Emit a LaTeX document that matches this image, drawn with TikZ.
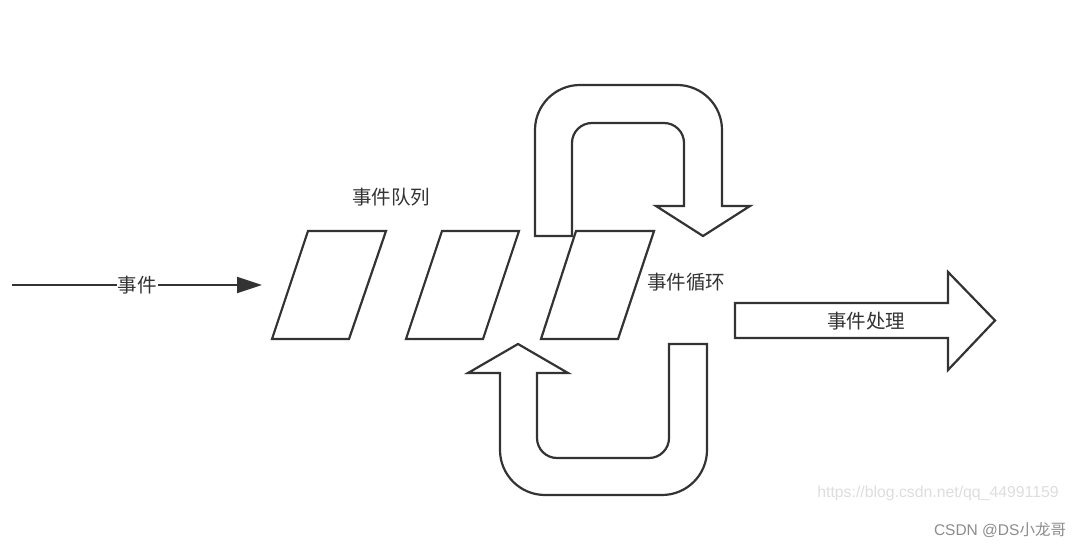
\documentclass[tikz,border=0pt]{standalone}
\usepackage{fontspec}
\newfontfamily\cjk{Noto Sans CJK SC}
\newfontfamily\wmfont{Liberation Sans}
\usetikzlibrary{arrows.meta,positioning}
\definecolor{dkgray}{HTML}{333333}
\definecolor{wmlight}{HTML}{DDDDDD}
\definecolor{wmgray}{HTML}{8C8C8C}
\tikzset{
  qbox/.style={draw=dkgray, line width=2.2pt, line join=miter},
  blk/.style={draw=dkgray, line width=2.2pt, line join=miter, fill=white},
  lbl/.style={font=\cjk\fontsize{19.5}{22}\selectfont, text=dkgray, inner sep=1pt},
  evline/.style={draw=dkgray, line width=2pt, -{Triangle[length=25pt,width=16pt]}},
}
\begin{document}
\begin{tikzpicture}[x=1pt,y=1pt]
  \useasboundingbox (0,0) rectangle (1084,547);
  % Event queue
  \draw[qbox] (308,316) -- (386,316) -- (349,208) -- (272,208) -- cycle;
  \draw[qbox] (442,316) -- (519,316) -- (483,208) -- (406,208) -- cycle;
  \draw[qbox] (576,316) -- (654,316) -- (618,208) -- (541,208) -- cycle;
  \node[lbl] (qlbl) at (391,350) {事件队列};

  % Incoming events
  \coordinate (evsrc) at (12,262);
  \coordinate (evend) at (262,262);
  \draw[evline] (evsrc) -- node[lbl, fill=white] (evlbl) {事件} (evend);

  % Upper loop arrow
  \draw[blk] (535,311) -- (535,417) arc[start angle=180, end angle=90, radius=45]
    -- (677,462) arc[start angle=90, end angle=0, radius=45]
    -- (722,341) -- (750,341) -- (703,311) -- (656,341) -- (684,341)
    -- (684,404) arc[start angle=0, end angle=90, radius=20]
    -- (592,424) arc[start angle=90, end angle=180, radius=20]
    -- (572,311) -- cycle;

  % Lower loop arrow
  \draw[blk] (518,203) -- (568,174) -- (537,174)
    -- (537,109) arc[start angle=180, end angle=270, radius=20]
    -- (649,89) arc[start angle=270, end angle=360, radius=20]
    -- (669,203) -- (707,203)
    -- (707,97) arc[start angle=0, end angle=-90, radius=45]
    -- (545,52) arc[start angle=270, end angle=180, radius=45]
    -- (500,174) -- (468,174) -- cycle;
  \node[lbl] (llbl) at (686,265) {事件循环};

  % Event handling
  \draw[blk] (735,244) -- (948,244) -- (948,275) -- (995,226.5) -- (948,177)
    -- (948,209) -- (735,209) -- cycle;
  \node[lbl] (hlbl) at (866,226) {事件处理};

  % Watermark
  \node[font=\wmfont\fontsize{15.8}{18}\selectfont, text=wmlight] (wm1) at (938,54)
    {https://blog.csdn.net/qq\_44991159};
  \node[font=\wmfont\fontsize{15.5}{17}\selectfont, text=wmgray] (wm2) at (1000,17)
    {CSDN @DS{\cjk 小龙哥}};
\end{tikzpicture}
\end{document}
